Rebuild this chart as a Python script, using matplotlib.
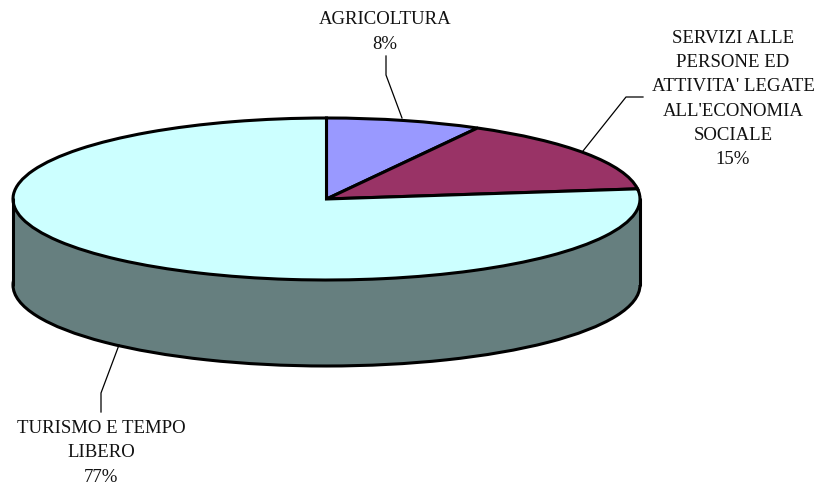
import matplotlib
matplotlib.use("Agg")
import matplotlib.pyplot as plt
from matplotlib.patches import Rectangle

plt.rcParams['font.family'] = ['Liberation Serif', 'DejaVu Sans']

W, H = 819, 489

categories = ["AGRICOLTURA", "SERVIZI ALLE\nPERSONE ED\nATTIVITA' LEGATE\nALL'ECONOMIA\nSOCIALE", "TURISMO E TEMPO\nLIBERO"]
percent = [8, 15, 77]
colors = ["#9999FF", "#993366", "#CCFFFF"]
wall_color = "#667F7F"

# pixel layout of the flattened pie
left, right = 13, 640
top, bottom = 119, 281
depth = 86 / 81  # wall height, in pie radii

fig = plt.figure(figsize=(W / 100, H / 100), dpi=100)
ax = fig.add_axes([left / W, 1 - bottom / H, (right - left) / W, (bottom - top) / H])

edge = {"edgecolor": "black", "linewidth": 2.2}

# side wall first, top of the pie goes over it
ax.pie([1], colors=[wall_color], center=(0, -depth), radius=1, wedgeprops=edge)
ax.add_patch(Rectangle((-1, -depth), 2, depth, facecolor=wall_color, edgecolor="none"))
ax.plot([-1, -1], [0, -depth], color="black", lw=2.2, solid_capstyle="round")
ax.plot([1, 1], [0, -depth], color="black", lw=2.2, solid_capstyle="round")
ax.pie(percent, colors=colors, startangle=90, counterclock=False, radius=1, wedgeprops=edge)

ax.set_aspect("auto")
ax.set_xlim(-1, 1)
ax.set_ylim(-1, 1)
ax.axis("off")
for artist in ax.patches + ax.lines:
    artist.set_clip_on(False)


def px(x, y):
    return x / W, 1 - y / H


label_pos = [(385, 32), (733, 99), (101, 453)]
leaders = [
    [(386, 57), (386, 76), (402, 119)],
    [(643, 98), (626, 98), (583, 152)],
    [(101, 413), (101, 394), (119, 346)],
]

for name, pct, pos, leader in zip(categories, percent, label_pos, leaders):
    x, y = px(*pos)
    fig.text(x, y, f"{name}\n{pct}%", ha="center", va="center", fontsize=13.5,
             linespacing=1.54, color="#111111")
    xs, ys = zip(*[px(*p) for p in leader])
    fig.add_artist(plt.Line2D(xs, ys, color="black", lw=0.9, transform=fig.transFigure))

fig.savefig("out.png", dpi=100)
